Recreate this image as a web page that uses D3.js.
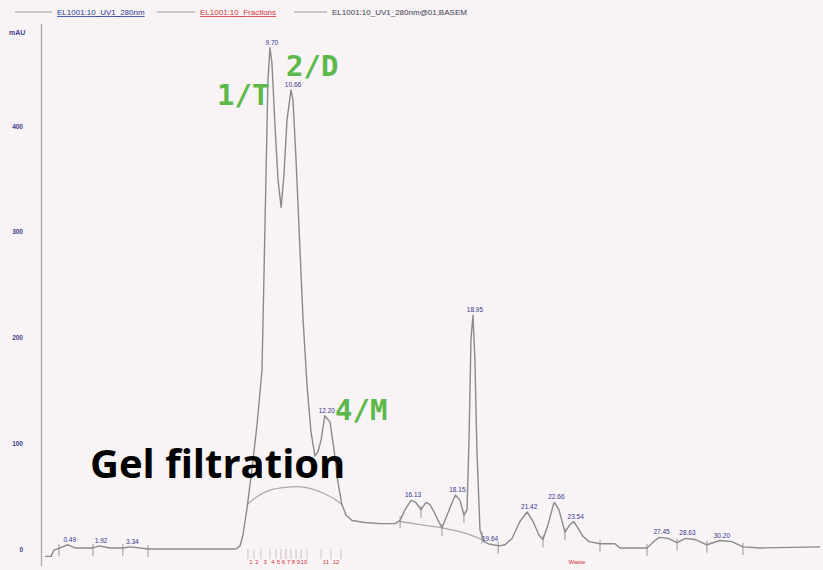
<!DOCTYPE html>
<html>
<head>
<meta charset="utf-8">
<script src="https://cdn.jsdelivr.net/npm/d3@7"></script>
<style>
  html, body { margin: 0; padding: 0; background: #f8f3f5; }
  svg { display: block; }
</style>
</head>
<body>
<div id="chart"></div>
<script>
// UV trace, time (min) vs absorbance (mAU)
var traceTime = [-0.55, -0.27, -0.14, 0.14, 0.49, 0.82, 1.64, 1.92, 2.41, 3.0, 3.34, 4.15, 6.5,
    8.15, 8.34, 8.47, 8.66, 8.88, 9.11, 9.34, 9.48, 9.61, 9.70, 9.79, 9.93, 10.07, 10.21,
    10.34, 10.48, 10.66, 10.75, 10.89, 11.03, 11.21, 11.39, 11.57, 11.75, 11.89, 12.03,
    12.20, 12.44, 12.62, 12.80, 12.98, 13.17, 13.44, 14.03, 14.72, 15.40, 15.63, 15.85,
    16.13, 16.35, 16.58, 16.81, 16.99, 17.18, 17.36, 17.54, 17.77, 18.00, 18.15, 18.36,
    18.54, 18.68, 18.77, 18.86, 18.95, 19.04, 19.13, 19.27, 19.45, 19.64, 19.86, 20.14,
    20.41, 20.73, 21.09, 21.42, 21.69, 21.96, 22.14, 22.37, 22.60, 22.66, 22.87, 23.05,
    23.14, 23.37, 23.54, 23.73, 23.96, 24.24, 24.74, 25.42, 25.65, 26.88, 27.24, 27.45,
    27.84, 28.25, 28.63, 29.06, 29.61, 30.20, 30.75, 31.25, 32.03, 34.76];
var traceMAU = [-7, -7, -1, 1, 4, 1, 1, 3, 1, 1, 2, 0, 0,
    0, 3, 13, 39, 75, 117, 169, 311, 443, 474, 460, 401, 349, 323,
    354, 406, 434, 425, 368, 302, 217, 155, 111, 88, 92, 103,
    126, 120, 94, 63, 42, 32, 27, 25, 24, 24, 27, 37,
    46, 44, 37, 44, 42, 35, 27, 20, 32, 44, 51, 46,
    32, 37, 103, 198, 221, 179, 94, 18, 7, 5, 4, 3,
    4, 10, 26, 35, 26, 13, 9, 23, 41, 44, 37, 23,
    16, 23, 26, 20, 12, 7, 5, 5, 1, 1, 8, 11,
    10, 6, 10, 9, 4, 8, 7, 2, 1, 2];

// computed baseline (BASEM), two segments
var base1Time = [8.66, 9.07, 9.61, 10.30, 10.93, 11.57, 12.21, 12.80, 12.98];
var base1MAU = [42, 49, 55, 58, 59, 57, 52, 45, 42];
var base2Time = [15.63, 16.54, 17.54, 18.59, 19.36];
var base2MAU = [26, 23, 20, 15, 9];

// peak retention time labels
var peakTimes = [0.49, 1.92, 3.34, 9.70, 10.66, 12.20, 16.13, 18.15, 18.95, 19.64, 21.42,
    22.66, 23.54, 27.45, 28.63, 30.20];
var peakText = ['0.49', '1.92', '3.34', '9.70', '10.66', '12.20', '16.13', '18.15', '18.95',
    '19.64', '21.42', '22.66', '23.54', '27.45', '28.63', '30.20'];

// integration marks
var markTimes = [0.09, 1.64, 3.0, 4.15, 15.63, 16.58, 17.54, 18.54, 19.36, 20.1, 22.14,
    23.14, 24.74, 26.88, 28.25, 29.61, 31.25];

// fractions
var fracBounds = [8.70, 8.97, 9.29, 9.70, 9.98, 10.20, 10.43, 10.66, 10.89, 11.12, 11.39,
    12.03, 12.48, 12.94];
var fracLabelTimes = [8.84, 9.11, 9.48, 9.84, 10.09, 10.32, 10.55, 10.77, 11.00, 11.25,
    12.25, 12.71];
var fracLabels = ['1', '2', '3', '4', '5', '6', '7', '8', '9', '10', '11', '12'];
var wasteTime = 23.69;

var yTicks = [0, 100, 200, 300, 400];

var legendItems = [
    {text: 'EL1001:10_UV1_280nm', color: '#2d3794', under: true},
    {text: 'EL1001:10_Fractions', color: '#d2343a', under: true},
    {text: 'EL1001:10_UV1_280nm@01,BASEM', color: '#3b3b52', under: false}
];

var width = 823, height = 570;

var svg = d3.select('#chart').append('svg')
    .attr('width', width)
    .attr('height', height);

svg.append('rect')
    .attr('width', width)
    .attr('height', height)
    .attr('fill', '#f8f3f5');

var x = d3.scaleLinear().domain([0, 21.95]).range([57, 57 + 21.95 * 21.95]);
var y = d3.scaleLinear().domain([0, 400]).range([549, 126]);

function valueAt(t) {
    var i = d3.bisectLeft(traceTime, t);
    if(i <= 0) return traceMAU[0];
    if(i >= traceTime.length) return traceMAU[traceMAU.length - 1];
    var t0 = traceTime[i - 1], t1 = traceTime[i];
    var f = (t - t0) / (t1 - t0);
    return traceMAU[i - 1] + f * (traceMAU[i] - traceMAU[i - 1]);
}

// legend
var lineX = [15, 157, 294];
var labelX = [57, 200, 332];
legendItems.forEach(function(item, i) {
    svg.append('line')
        .attr('x1', lineX[i]).attr('x2', labelX[i] - 5)
        .attr('y1', 12).attr('y2', 12)
        .attr('stroke', '#9a9a9a').attr('stroke-width', 1);
    svg.append('text')
        .attr('x', labelX[i]).attr('y', 15)
        .attr('font-family', 'Liberation Sans, Arial, sans-serif')
        .attr('font-size', 8)
        .attr('fill', item.color)
        .attr('text-decoration', item.under ? 'underline' : null)
        .text(item.text);
});

// y axis
var yAxis = d3.axisLeft(y)
    .tickValues(yTicks)
    .tickSize(0)
    .tickPadding(18)
    .tickFormat(d3.format('d'));

var yg = svg.append('g')
    .attr('transform', 'translate(41,0)')
    .call(yAxis);
yg.select('.domain').remove();
yg.selectAll('text')
    .attr('font-family', 'Liberation Sans, Arial, sans-serif')
    .attr('font-size', 6.5)
    .attr('font-weight', 'bold')
    .attr('fill', '#3a3f8c');

svg.append('line')
    .attr('x1', 41.5).attr('x2', 41.5)
    .attr('y1', 24).attr('y2', 566)
    .attr('stroke', '#a8a8a8').attr('stroke-width', 1.3);

svg.append('text')
    .attr('x', 9).attr('y', 35)
    .attr('font-family', 'Liberation Sans, Arial, sans-serif')
    .attr('font-size', 7)
    .attr('font-weight', 'bold')
    .attr('fill', '#3a3f8c')
    .text('mAU');

// fraction ticks and labels
svg.append('g').selectAll('line')
    .data(fracBounds)
    .join('line')
    .attr('x1', function(d) { return x(d); })
    .attr('x2', function(d) { return x(d); })
    .attr('y1', 549).attr('y2', 559)
    .attr('stroke', '#c9b3b8').attr('stroke-width', 0.8);

svg.append('g').selectAll('text')
    .data(fracLabels)
    .join('text')
    .attr('x', function(d, i) { return x(fracLabelTimes[i]); })
    .attr('y', 564)
    .attr('text-anchor', 'middle')
    .attr('font-family', 'Liberation Sans, Arial, sans-serif')
    .attr('font-size', 6)
    .attr('fill', '#d2343a')
    .text(function(d) { return d; });

svg.append('text')
    .attr('x', x(wasteTime)).attr('y', 564)
    .attr('text-anchor', 'middle')
    .attr('font-family', 'Liberation Sans, Arial, sans-serif')
    .attr('font-size', 6)
    .attr('fill', '#d2343a')
    .text('Waste');

// baseline segments
var line = d3.line()
    .x(function(d) { return x(d[0]); })
    .y(function(d) { return y(d[1]); });

[[base1Time, base1MAU], [base2Time, base2MAU]].forEach(function(seg) {
    svg.append('path')
        .datum(d3.zip(seg[0], seg[1]))
        .attr('d', line.curve(d3.curveMonotoneX))
        .attr('fill', 'none')
        .attr('stroke', '#a9a9a9')
        .attr('stroke-width', 1.3);
});

// integration marks
svg.append('g').selectAll('line')
    .data(markTimes)
    .join('line')
    .attr('x1', function(d) { return x(d); })
    .attr('x2', function(d) { return x(d); })
    .attr('y1', function(d) { return y(valueAt(d)) - 4; })
    .attr('y2', function(d) { return y(valueAt(d)) + 8; })
    .attr('stroke', '#8c8c8c').attr('stroke-width', 0.9);

// main trace
svg.append('path')
    .datum(d3.zip(traceTime, traceMAU))
    .attr('d', line.curve(d3.curveLinear))
    .attr('fill', 'none')
    .attr('stroke', '#8a8a8a')
    .attr('stroke-width', 1.4)
    .attr('stroke-linejoin', 'round');

// peak labels
svg.append('g').selectAll('text')
    .data(peakText)
    .join('text')
    .attr('x', function(d, i) { return x(peakTimes[i]) + 2; })
    .attr('y', function(d, i) { return y(valueAt(peakTimes[i])) - 3; })
    .attr('text-anchor', 'middle')
    .attr('font-family', 'Liberation Sans, Arial, sans-serif')
    .attr('font-size', 6.5)
    .attr('fill', '#34388f')
    .text(function(d) { return d; });

// annotations
var green = '#5cb84a';
[['1/T', 217, 105], ['2/D', 286, 76], ['4/M', 335, 420]].forEach(function(a) {
    svg.append('text')
        .attr('x', a[1]).attr('y', a[2])
        .attr('font-family', 'DejaVu Sans Mono, monospace')
        .attr('font-size', 29)
        .attr('font-weight', 'bold')
        .attr('fill', green)
        .text(a[0]);
});

var title = svg.append('text')
    .attr('x', 90).attr('y', 478)
    .attr('font-family', 'Open Sans, sans-serif')
    .attr('font-size', 40)
    .attr('font-weight', 'bold')
    .attr('fill', '#000')
    .text('Gel filtration');
if(title.node().getComputedTextLength() > 258) {
    title.attr('textLength', 258).attr('lengthAdjust', 'spacingAndGlyphs');
}
</script>
</body>
</html>
